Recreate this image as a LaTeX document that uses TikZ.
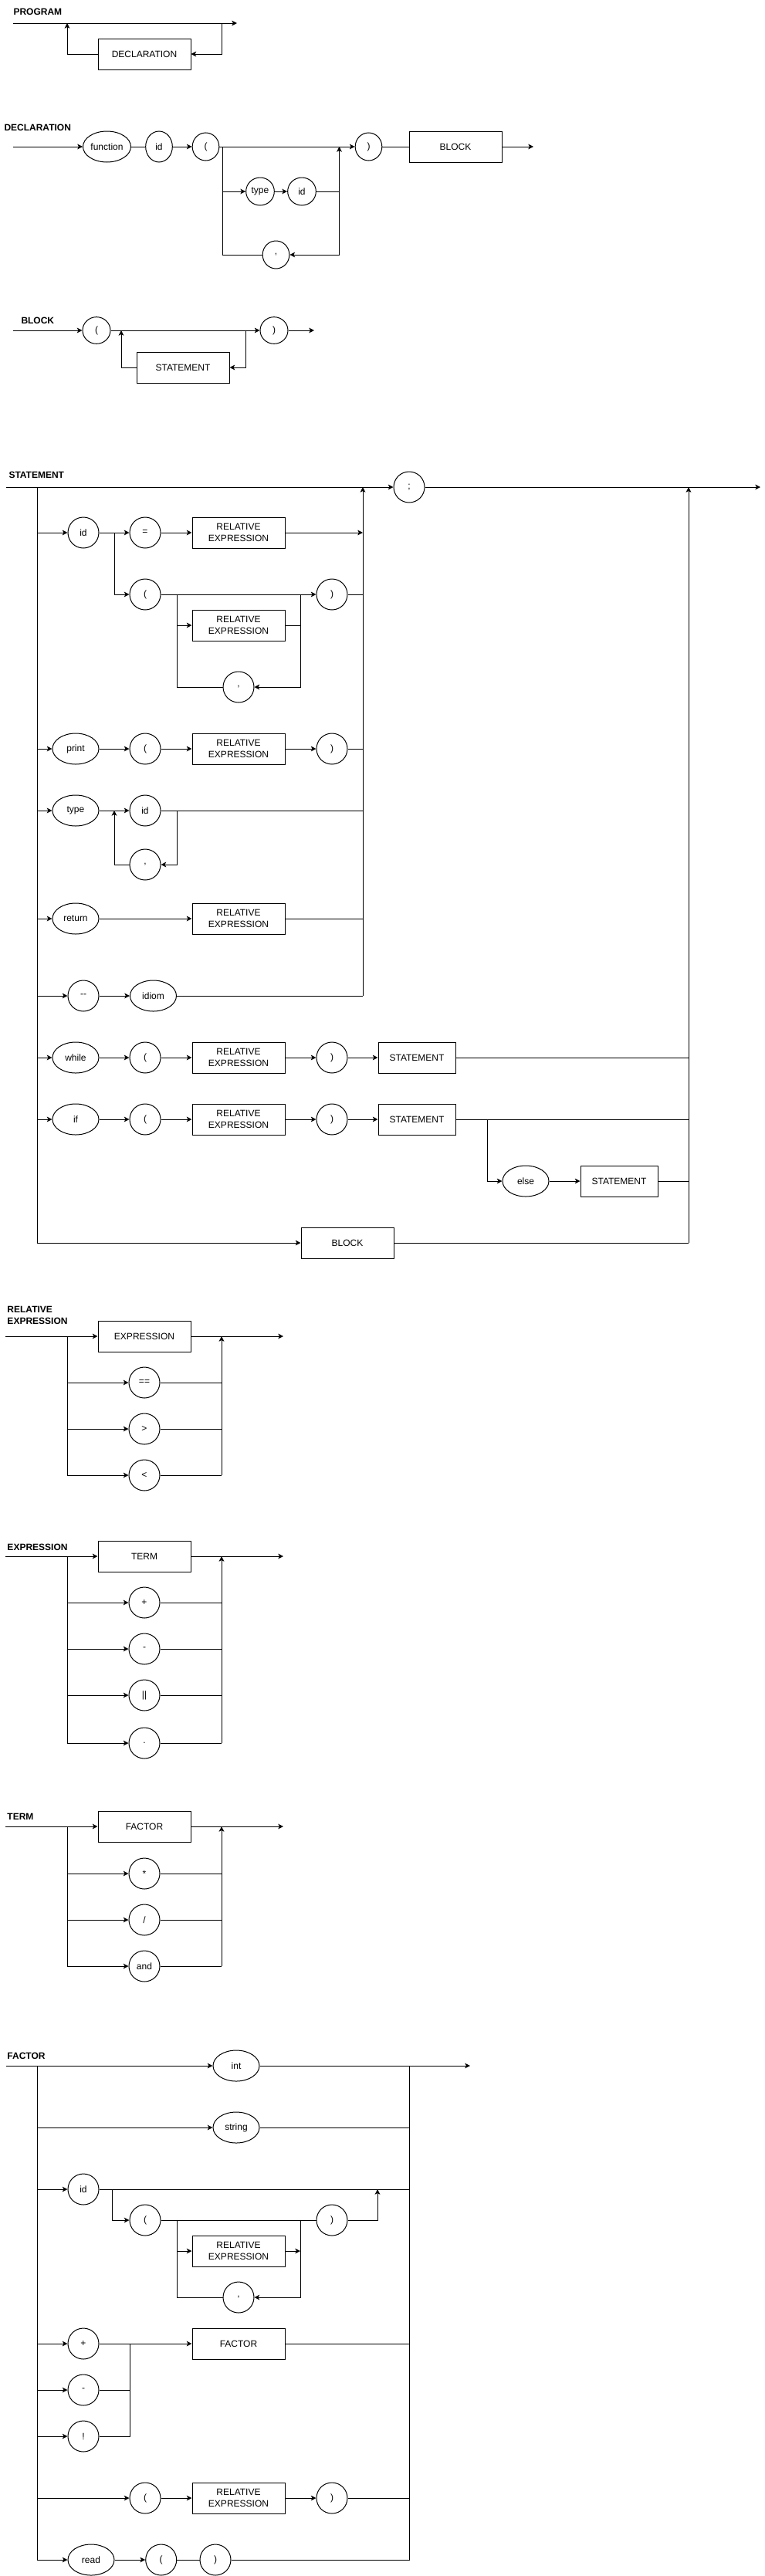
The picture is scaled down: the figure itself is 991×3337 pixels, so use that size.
\documentclass[tikz,border=0pt]{standalone}
\usepackage{fontspec}
\setmainfont{Liberation Sans}
\usetikzlibrary{shapes.geometric, arrows.meta, positioning}

\begin{document}
\begin{tikzpicture}[
  x=0.75pt, y=-0.75pt, line width=0.75pt,
  terminal/.style={ellipse, draw, minimum width=30pt, minimum height=30pt, inner sep=0pt, font=\fontsize{9}{11}\selectfont},
  wordterm/.style={terminal, minimum width=45pt},
  nonterminal/.style={rectangle, draw, minimum width=90pt, minimum height=30pt, inner sep=0pt, align=center, font=\fontsize{9}{11}\selectfont},
  heading/.style={anchor=west, inner sep=0pt, align=left, font=\fontsize{9}{11}\selectfont\bfseries},
  arrow/.style={-{Stealth[length=5pt, width=5pt, inset=1.2pt]}}
]
  \useasboundingbox (0,0) rectangle (991,3337);

  % Program
  \node[heading] (progT) at (17,15) {PROGRAM};
  \node[nonterminal] (progDecl) at (187,70) {DECLARATION};
  \coordinate (progIn) at (17,30);
  \coordinate (progOut) at (307,30);
  \coordinate (progLoopR) at (287,30);
  \coordinate (progLoopL) at (87,30);
  \draw[arrow] (progIn) -- (progOut);
  \draw[arrow] (progLoopR) |- (progDecl);
  \draw[arrow] (progDecl) -| (progLoopL);

  % Declaration
  \node[heading] (declT) at (5,165) {DECLARATION};
  \node[terminal, minimum width=46.5pt] (declFn) at (138.5,190) {function};
  \node[terminal, minimum width=26pt] (declId) at (206,190) {id};
  \node[terminal, minimum width=26pt, minimum height=27pt] (declOpen) at (266.5,190) {(};
  \node[terminal, minimum width=26pt, minimum height=27pt] (declClose) at (477.5,190) {)};
  \node[nonterminal] (declBlock) at (590,190) {BLOCK};
  \node[terminal, minimum width=27.5pt, minimum height=27pt] (declType) at (337,248) {type};
  \node[terminal, minimum width=27.5pt, minimum height=27pt] (declId2) at (391,248) {id};
  \node[terminal, minimum width=26pt, minimum height=27pt] (declComma) at (357.5,330) {,};
  \coordinate (declIn) at (17,190);
  \coordinate (declOut) at (691,190);
  \coordinate (declSplit) at (288.5,190);
  \coordinate (declJoin) at (439.5,190);
  \coordinate (declJoinLow) at (439.5,330);
  \draw[arrow] (declIn) -- (declFn);
  \draw (declFn) -- (declId);
  \draw[arrow] (declId) -- (declOpen);
  \draw[arrow] (declOpen) -- (declClose);
  \draw (declClose) -- (declBlock);
  \draw[arrow] (declBlock) -- (declOut);
  \draw (declSplit) |- (declComma);
  \draw[arrow] (declSplit |- declType) -- (declType);
  \draw[arrow] (declType) -- (declId2);
  \draw (declId2) -- (declJoin |- declId2);
  \draw[arrow] (declJoinLow) -- (declJoin);
  \draw[arrow] (declJoinLow) -- (declComma);

  % Block
  \node[heading] (blkT) at (27,415) {BLOCK};
  \node[terminal, minimum width=27pt, minimum height=26pt] (blkOpen) at (125,428) {(};
  \node[terminal, minimum width=27pt, minimum height=26pt] (blkClose) at (355,428) {)};
  \node[nonterminal] (blkStmt) at (237,476) {STATEMENT};
  \coordinate (blkIn) at (17,428);
  \coordinate (blkOut) at (407,428);
  \coordinate (blkLoopR) at (318,428);
  \coordinate (blkLoopL) at (157,428);
  \draw[arrow] (blkIn) -- (blkOpen);
  \draw[arrow] (blkOpen) -- (blkClose);
  \draw[arrow] (blkClose) -- (blkOut);
  \draw[arrow] (blkLoopR) |- (blkStmt);
  \draw[arrow] (blkStmt) -| (blkLoopL);

  % Statement
  \node[heading] (stT) at (11,615) {STATEMENT};
  \node[terminal] (stSemi) at (530,631) {;};
  \coordinate (stIn) at (8,631);
  \coordinate (stOut) at (985,631);
  \coordinate (stBusTop) at (48,631);
  \coordinate (stBusBot) at (48,1610);
  \coordinate (stColTop) at (470,631);
  \coordinate (stColBot) at (470,1290);
  \coordinate (stEndTop) at (892,631);
  \coordinate (stEndBot) at (892,1610);
  \draw[arrow] (stIn) -- (stSemi);
  \draw[arrow] (stSemi) -- (stOut);
  \draw (stBusTop) -- (stBusBot);
  \draw[arrow] (stColBot) -- (stColTop);
  \draw[arrow] (stEndBot) -- (stEndTop);

  % assignment and call
  \node[terminal] (stId) at (108,690) {id};
  \node[terminal] (stEq) at (188,690) {=};
  \node[nonterminal] (stRel1) at (309,690) {RELATIVE\\EXPRESSION};
  \node[terminal] (stCallOpen) at (188,770) {(};
  \node[terminal] (stCallClose) at (430,770) {)};
  \node[nonterminal] (stRel2) at (309,810) {RELATIVE\\EXPRESSION};
  \node[terminal] (stComma1) at (309,890) {,};
  \coordinate (stCallSplit) at (148,690);
  \coordinate (stArgL) at (229,770);
  \coordinate (stArgR) at (389,770);
  \draw[arrow] (stBusTop |- stId) -- (stId);
  \draw[arrow] (stId) -- (stEq);
  \draw[arrow] (stEq) -- (stRel1);
  \draw[arrow] (stRel1) -- (stColTop |- stRel1);
  \draw[arrow] (stCallSplit) |- (stCallOpen);
  \draw[arrow] (stCallOpen) -- (stCallClose);
  \draw (stCallClose) -- (stColTop |- stCallClose);
  \draw (stArgL) |- (stComma1);
  \draw[arrow] (stArgL |- stRel2) -- (stRel2);
  \draw (stRel2) -- (stArgR |- stRel2);
  \draw[arrow] (stArgR) |- (stComma1);

  % print
  \node[wordterm] (stPrint) at (98,970) {print};
  \node[terminal] (stPrOpen) at (188,970) {(};
  \node[nonterminal] (stRel3) at (309,970) {RELATIVE\\EXPRESSION};
  \node[terminal] (stPrClose) at (430,970) {)};
  \draw[arrow] (stBusTop |- stPrint) -- (stPrint);
  \draw[arrow] (stPrint) -- (stPrOpen);
  \draw[arrow] (stPrOpen) -- (stRel3);
  \draw[arrow] (stRel3) -- (stPrClose);
  \draw (stPrClose) -- (stColTop |- stPrClose);

  % declaration of variables
  \node[wordterm] (stType) at (98,1050) {type};
  \node[terminal] (stVarId) at (188,1050) {id};
  \node[terminal] (stComma2) at (188,1120) {,};
  \coordinate (stVarL) at (148,1050);
  \coordinate (stVarR) at (229,1050);
  \draw[arrow] (stBusTop |- stType) -- (stType);
  \draw[arrow] (stType) -- (stVarId);
  \draw (stVarId) -- (stColTop |- stVarId);
  \draw[arrow] (stVarR) |- (stComma2);
  \draw[arrow] (stComma2) -| (stVarL);

  % return
  \node[wordterm] (stRet) at (98,1190) {return};
  \node[nonterminal] (stRel4) at (309,1190) {RELATIVE\\EXPRESSION};
  \draw[arrow] (stBusTop |- stRet) -- (stRet);
  \draw[arrow] (stRet) -- (stRel4);
  \draw (stRel4) -- (stColTop |- stRel4);

  % idiom
  \node[terminal] (stDash) at (108,1290) {-{}-};
  \node[wordterm] (stIdiom) at (198.5,1290) {idiom};
  \draw[arrow] (stBusTop |- stDash) -- (stDash);
  \draw[arrow] (stDash) -- (stIdiom);
  \draw (stIdiom) -- (stColBot);

  % while
  \node[wordterm] (stWhile) at (98,1370) {while};
  \node[terminal] (stWhOpen) at (188,1370) {(};
  \node[nonterminal] (stRel5) at (309,1370) {RELATIVE\\EXPRESSION};
  \node[terminal] (stWhClose) at (430,1370) {)};
  \node[nonterminal, minimum width=75pt] (stWhBody) at (540,1370) {STATEMENT};
  \draw[arrow] (stBusTop |- stWhile) -- (stWhile);
  \draw[arrow] (stWhile) -- (stWhOpen);
  \draw[arrow] (stWhOpen) -- (stRel5);
  \draw[arrow] (stRel5) -- (stWhClose);
  \draw[arrow] (stWhClose) -- (stWhBody);
  \draw (stWhBody) -- (stEndTop |- stWhBody);

  % if
  \node[wordterm] (stIf) at (98,1450) {if};
  \node[terminal] (stIfOpen) at (188,1450) {(};
  \node[nonterminal] (stRel6) at (309,1450) {RELATIVE\\EXPRESSION};
  \node[terminal] (stIfClose) at (430,1450) {)};
  \node[nonterminal, minimum width=75pt] (stIfBody) at (540,1450) {STATEMENT};
  \node[wordterm] (stElse) at (681,1530) {else};
  \node[nonterminal, minimum width=75pt] (stElseBody) at (802,1530) {STATEMENT};
  \coordinate (stElseSplit) at (631,1450);
  \draw[arrow] (stBusTop |- stIf) -- (stIf);
  \draw[arrow] (stIf) -- (stIfOpen);
  \draw[arrow] (stIfOpen) -- (stRel6);
  \draw[arrow] (stRel6) -- (stIfClose);
  \draw[arrow] (stIfClose) -- (stIfBody);
  \draw (stIfBody) -- (stEndTop |- stIfBody);
  \draw[arrow] (stElseSplit) |- (stElse);
  \draw[arrow] (stElse) -- (stElseBody);
  \draw (stElseBody) -- (stEndTop |- stElseBody);

  % block
  \node[nonterminal] (stBlock) at (450,1610) {BLOCK};
  \draw[arrow] (stBusBot) -- (stBlock);
  \draw (stBlock) -- (stEndBot);

  % Relative expression
  \node[heading] (reT) at (9,1704) {RELATIVE\\EXPRESSION};
  \node[nonterminal] (reExpr) at (187,1731) {EXPRESSION};
  \node[terminal] (reEq) at (187,1791) {==};
  \node[terminal] (reGt) at (187,1851) {>};
  \node[terminal] (reLt) at (187,1911) {<};
  \coordinate (reIn) at (7,1731);
  \coordinate (reOut) at (367,1731);
  \coordinate (reBus) at (87,1731);
  \coordinate (reCol) at (287,1731);
  \draw[arrow] (reIn) -- (reExpr);
  \draw[arrow] (reExpr) -- (reOut);
  \draw (reBus) -- (reBus |- reLt);
  \draw[arrow] (reCol |- reLt) -- (reCol);
  \draw[arrow] (reBus |- reEq) -- (reEq);
  \draw (reEq) -- (reCol |- reEq);
  \draw[arrow] (reBus |- reGt) -- (reGt);
  \draw (reGt) -- (reCol |- reGt);
  \draw[arrow] (reBus |- reLt) -- (reLt);
  \draw (reLt) -- (reCol |- reLt);

  % Expression
  \node[heading] (exT) at (9,2004) {EXPRESSION};
  \node[nonterminal] (exTerm) at (187,2016) {TERM};
  \node[terminal] (exPlus) at (187,2076) {+};
  \node[terminal] (exMinus) at (187,2136) {-};
  \node[terminal] (exOr) at (187,2196) {||};
  \node[terminal] (exDot) at (187,2258) {.};
  \coordinate (exIn) at (7,2016);
  \coordinate (exOut) at (367,2016);
  \coordinate (exBus) at (87,2016);
  \coordinate (exCol) at (287,2016);
  \draw[arrow] (exIn) -- (exTerm);
  \draw[arrow] (exTerm) -- (exOut);
  \draw (exBus) -- (exBus |- exDot);
  \draw[arrow] (exCol |- exDot) -- (exCol);
  \draw[arrow] (exBus |- exPlus) -- (exPlus);
  \draw (exPlus) -- (exCol |- exPlus);
  \draw[arrow] (exBus |- exMinus) -- (exMinus);
  \draw (exMinus) -- (exCol |- exMinus);
  \draw[arrow] (exBus |- exOr) -- (exOr);
  \draw (exOr) -- (exCol |- exOr);
  \draw[arrow] (exBus |- exDot) -- (exDot);
  \draw (exDot) -- (exCol |- exDot);

  % Term
  \node[heading] (tmT) at (9,2353) {TERM};
  \node[nonterminal] (tmFactor) at (187,2366) {FACTOR};
  \node[terminal] (tmMul) at (187,2427) {*};
  \node[terminal] (tmDiv) at (187,2487) {/};
  \node[terminal] (tmAnd) at (187,2547) {and};
  \coordinate (tmIn) at (7,2366);
  \coordinate (tmOut) at (367,2366);
  \coordinate (tmBus) at (87,2366);
  \coordinate (tmCol) at (287,2366);
  \draw[arrow] (tmIn) -- (tmFactor);
  \draw[arrow] (tmFactor) -- (tmOut);
  \draw (tmBus) -- (tmBus |- tmAnd);
  \draw[arrow] (tmCol |- tmAnd) -- (tmCol);
  \draw[arrow] (tmBus |- tmMul) -- (tmMul);
  \draw (tmMul) -- (tmCol |- tmMul);
  \draw[arrow] (tmBus |- tmDiv) -- (tmDiv);
  \draw (tmDiv) -- (tmCol |- tmDiv);
  \draw[arrow] (tmBus |- tmAnd) -- (tmAnd);
  \draw (tmAnd) -- (tmCol |- tmAnd);

  % Factor
  \node[heading] (faT) at (9,2663) {FACTOR};
  \node[wordterm] (faInt) at (306,2676) {int};
  \node[wordterm] (faStr) at (306,2756) {string};
  \coordinate (faIn) at (8,2676);
  \coordinate (faOut) at (609,2676);
  \coordinate (faBusTop) at (48,2676);
  \coordinate (faBusBot) at (48,3316);
  \coordinate (faColTop) at (530.5,2676);
  \coordinate (faColBot) at (530.5,3316);
  \draw[arrow] (faIn) -- (faInt);
  \draw[arrow] (faInt) -- (faOut);
  \draw (faBusTop) -- (faBusBot);
  \draw (faColTop) -- (faColBot);
  \draw[arrow] (faBusTop |- faStr) -- (faStr);
  \draw (faStr) -- (faColTop |- faStr);

  % variable or call
  \node[terminal] (faId) at (108,2836) {id};
  \node[terminal] (faOpen) at (188,2876) {(};
  \node[terminal] (faClose) at (430,2876) {)};
  \node[nonterminal] (faRel1) at (309,2916) {RELATIVE\\EXPRESSION};
  \node[terminal] (faComma) at (309,2976) {,};
  \coordinate (faCallSplit) at (145,2836);
  \coordinate (faCallJoin) at (489,2836);
  \coordinate (faArgL) at (229,2876);
  \coordinate (faArgR) at (389,2876);
  \draw[arrow] (faBusTop |- faId) -- (faId);
  \draw (faId) -- (faColTop |- faId);
  \draw[arrow] (faCallSplit) |- (faOpen);
  \draw (faOpen) -- (faClose);
  \draw[arrow] (faClose) -| (faCallJoin);
  \draw (faArgL) |- (faComma);
  \draw[arrow] (faArgL |- faRel1) -- (faRel1);
  \draw[arrow] (faRel1) -- (faArgR |- faRel1);
  \draw[arrow] (faArgR) |- (faComma);

  % unary
  \node[terminal] (faPlus) at (108,3036) {+};
  \node[terminal] (faMinus) at (108,3096) {-};
  \node[terminal] (faNot) at (108,3156) {!};
  \node[nonterminal] (faFactor) at (309,3036) {FACTOR};
  \coordinate (faSignJoin) at (168.4,3036);
  \draw[arrow] (faBusTop |- faPlus) -- (faPlus);
  \draw[arrow] (faPlus) -- (faFactor);
  \draw (faFactor) -- (faColTop |- faFactor);
  \draw[arrow] (faBusTop |- faMinus) -- (faMinus);
  \draw (faMinus) -| (faSignJoin);
  \draw[arrow] (faBusTop |- faNot) -- (faNot);
  \draw (faNot) -| (faSignJoin);

  % parenthesis
  \node[terminal] (faParOpen) at (188,3236) {(};
  \node[nonterminal] (faRel2) at (309,3236) {RELATIVE\\EXPRESSION};
  \node[terminal] (faParClose) at (430,3236) {)};
  \draw[arrow] (faBusTop |- faParOpen) -- (faParOpen);
  \draw[arrow] (faParOpen) -- (faRel2);
  \draw[arrow] (faRel2) -- (faParClose);
  \draw (faParClose) -- (faColTop |- faParClose);

  % read
  \node[wordterm] (faRead) at (118,3316) {read};
  \node[terminal] (faRdOpen) at (208.7,3316) {(};
  \node[terminal] (faRdClose) at (279,3316) {)};
  \draw[arrow] (faBusBot) -- (faRead);
  \draw[arrow] (faRead) -- (faRdOpen);
  \draw (faRdOpen) -- (faRdClose);
  \draw (faRdClose) -- (faColBot);
\end{tikzpicture}
\end{document}
